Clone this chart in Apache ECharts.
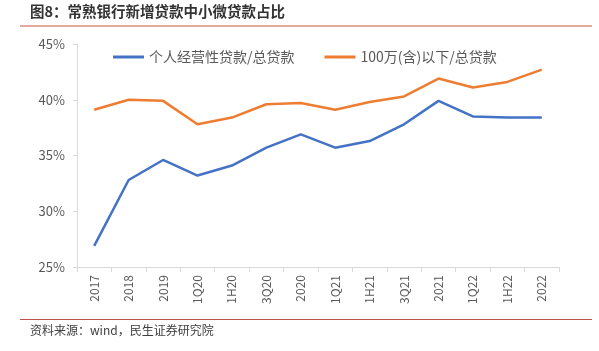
<!DOCTYPE html>
<html>
<head>
<meta charset="utf-8">
<script src="https://cdn.jsdelivr.net/npm/echarts@6/dist/echarts.min.js"></script>
<style>
html, body { margin: 0; padding: 0; background: #fff; }
#main { width: 599px; height: 351px; }
</style>
</head>
<body>
<div id="main"></div>
<script>
// 横轴期间
var periods = ['2017', '2018', '2019', '1Q20', '1H20', '3Q20', '2020', '1Q21', '1H21', '3Q21', '2021', '1Q22', '1H22', '2022'];
// 个人经营性贷款/总贷款 (%)
var personalBiz = [26.9, 32.8, 34.6, 33.2, 34.1, 35.7, 36.9, 35.7, 36.3, 37.8, 39.9, 38.5, 38.4, 38.4];
// 100万(含)以下/总贷款 (%)
var under1m = [39.1, 40.0, 39.9, 37.8, 38.4, 39.6, 39.7, 39.1, 39.8, 40.3, 41.9, 41.1, 41.6, 42.7];

var font = '"Noto Sans CJK SC", "Microsoft YaHei", sans-serif';
var myChart = echarts.init(document.getElementById('main'));

myChart.setOption({
    backgroundColor: '#fff',
    textStyle: { fontFamily: font },
    animation: false,
    grid: { left: 77, right: 40, top: 44, bottom: 84, containLabel: false },
    legend: {
        left: 113,
        top: 50,
        padding: 0,
        itemWidth: 31,
        itemHeight: 3,
        itemGap: 30,
        icon: 'rect',
        textStyle: { color: '#595959', fontSize: 14, fontFamily: font },
        data: ['个人经营性贷款/总贷款', '100万(含)以下/总贷款']
    },
    xAxis: {
        type: 'category',
        data: periods,
        boundaryGap: true,
        axisLine: { lineStyle: { color: '#d9d9d9', width: 1 } },
        axisTick: { show: true, length: 5, lineStyle: { color: '#d9d9d9' } },
        axisLabel: { rotate: 90, color: '#595959', fontSize: 12, margin: 8, fontFamily: font }
    },
    yAxis: {
        type: 'value',
        min: 25,
        max: 45,
        interval: 5,
        axisLine: { show: true, lineStyle: { color: '#d9d9d9', width: 1 } },
        axisTick: { show: true, length: 4, lineStyle: { color: '#d9d9d9' } },
        splitLine: { show: false },
        axisLabel: {
            color: '#595959', fontSize: 13, margin: 12, fontFamily: font,
            formatter: function (v) { return v + '%'; }
        }
    },
    series: [{
            name: '个人经营性贷款/总贷款',
            type: 'line',
            data: personalBiz,
            symbol: 'none',
            lineStyle: { color: '#4472c4', width: 2.5 },
            itemStyle: { color: '#4472c4' }
        },
        {
            name: '100万(含)以下/总贷款',
            type: 'line',
            data: under1m,
            symbol: 'none',
            lineStyle: { color: '#ed7d31', width: 2.5 },
            itemStyle: { color: '#ed7d31' }
        }
    ],
    graphic: [{
            type: 'text',
            left: 30,
            top: 4,
            style: { text: '图8：常熟银行新增贷款中小微贷款占比', fill: '#333', font: 'bold 14.5px ' + font }
        },
        {
            type: 'line',
            shape: { x1: 20, y1: 26, x2: 592, y2: 26 },
            style: { stroke: '#e3aaa2', lineWidth: 2 }
        },
        {
            type: 'line',
            shape: { x1: 20, y1: 319.5, x2: 592, y2: 319.5 },
            style: { stroke: '#c0504d', lineWidth: 1 }
        },
        {
            type: 'text',
            left: 30,
            top: 324,
            style: { text: '资料来源：wind，民生证券研究院', fill: '#404040', font: '12px ' + font }
        }
    ]
});

window.addEventListener('resize', function () {
    myChart.resize();
});
</script>
</body>
</html>
